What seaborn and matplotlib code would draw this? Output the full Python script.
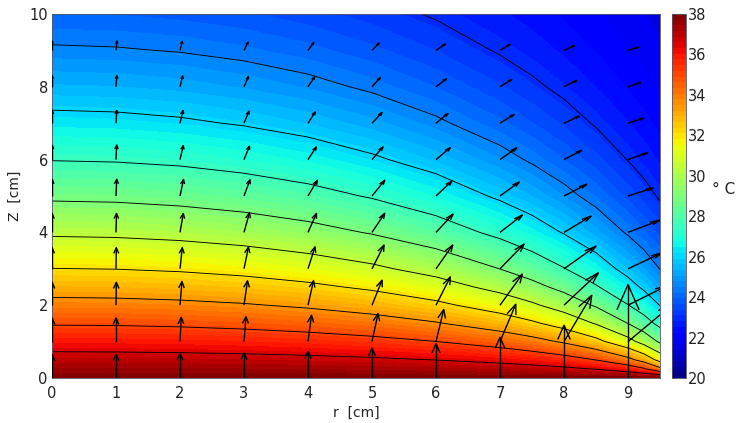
import numpy as np
import matplotlib
matplotlib.use("Agg")
import matplotlib.pyplot as plt
from matplotlib.collections import LineCollection
import seaborn as sns

# Temperature field T(r, z) in degrees C on a rectilinear grid (rows: z, columns: r)
r_cm = [0, 1, 2, 3, 4, 5, 6, 7, 7.5, 8, 8.5, 9, 9.25, 9.5]
z_cm = [0, 0.25, 0.5, 1, 1.5, 2, 2.5, 3, 4, 5, 6, 7, 8, 9, 10]
temperature = [
    [38.00, 38.00, 38.00, 38.00, 38.00, 38.00, 38.00, 38.00, 38.00, 38.00, 38.00, 38.00, 38.00, 38.00],
    [37.48, 37.47, 37.46, 37.43, 37.40, 37.33, 37.24, 37.08, 36.95, 36.76, 36.44, 35.80, 35.15, 33.85],
    [36.96, 36.95, 36.92, 36.87, 36.79, 36.67, 36.48, 36.17, 35.92, 35.55, 34.97, 33.89, 32.96, 31.53],
    [35.92, 35.90, 35.85, 35.75, 35.60, 35.37, 35.01, 34.42, 33.97, 33.34, 32.41, 30.99, 30.00, 28.79],
    [34.90, 34.88, 34.80, 34.66, 34.44, 34.11, 33.60, 32.81, 32.22, 31.45, 30.41, 28.99, 28.11, 27.12],
    [33.91, 33.88, 33.78, 33.60, 33.32, 32.91, 32.30, 31.36, 30.71, 29.89, 28.85, 27.54, 26.79, 25.97],
    [32.95, 32.91, 32.79, 32.58, 32.26, 31.79, 31.10, 30.09, 29.42, 28.61, 27.62, 26.46, 25.81, 25.13],
    [32.02, 31.98, 31.85, 31.62, 31.26, 30.75, 30.02, 28.99, 28.32, 27.55, 26.64, 25.61, 25.06, 24.48],
    [30.31, 30.26, 30.11, 29.85, 29.46, 28.91, 28.17, 27.19, 26.60, 25.93, 25.19, 24.40, 23.98, 23.55],
    [28.79, 28.74, 28.58, 28.32, 27.93, 27.40, 26.71, 25.83, 25.33, 24.78, 24.19, 23.57, 23.25, 22.92],
    [27.46, 27.41, 27.27, 27.01, 26.65, 26.16, 25.55, 24.81, 24.39, 23.94, 23.47, 22.98, 22.73, 22.48],
    [26.34, 26.29, 26.15, 25.92, 25.60, 25.17, 24.64, 24.02, 23.67, 23.31, 22.94, 22.55, 22.35, 22.16],
    [25.39, 25.35, 25.23, 25.02, 24.74, 24.37, 23.93, 23.41, 23.13, 22.84, 22.53, 22.23, 22.07, 21.92],
    [24.60, 24.56, 24.46, 24.29, 24.05, 23.74, 23.37, 22.94, 22.71, 22.47, 22.23, 21.98, 21.86, 21.73],
    [23.95, 23.92, 23.83, 23.69, 23.49, 23.23, 22.93, 22.58, 22.39, 22.20, 22.00, 21.80, 21.70, 21.59],
]

# Isotherm levels drawn as black lines
isotherms = [23.0, 24.5, 26.0, 27.5, 29.0, 30.5, 32.0, 33.5, 35.0, 36.5]

# Heat-flux vectors sampled on the integer grid (rows: z = 0..9, columns: r = 0..9)
arrow_r = [0, 1, 2, 3, 4, 5, 6, 7, 8, 9]
arrow_z = [0, 1, 2, 3, 4, 5, 6, 7, 8, 9]
flux_r = [
    [0, 0.0, 0.0, 0.0, 0.0, 0.0, 0.0, 0.0, 0.0, 0.0],
    [0, 0.0, 2.0, 3.1, 5.5, 9.4, 12.1, 24.6, 43.4, 75.1],
    [0, 0.5, 3.1, 5.5, 8.6, 15.7, 22.4, 34.9, 53.7, 62.6],
    [0, 0.5, 3.6, 7.0, 11.0, 18.8, 26.1, 37.6, 50.1, 53.2],
    [0, 0.8, 5.2, 8.6, 13.3, 19.9, 26.6, 34.9, 42.3, 50.1],
    [0, 1.1, 5.5, 9.4, 14.6, 19.9, 25.0, 30.2, 35.5, 39.1],
    [0, 1.1, 5.2, 8.6, 13.0, 17.2, 22.4, 26.1, 27.7, 30.2],
    [0, 1.1, 4.7, 7.8, 11.4, 15.7, 18.8, 21.9, 23.9, 24.6],
    [0, 1.3, 4.2, 7.0, 10.5, 13.0, 16.1, 18.3, 19.9, 19.9],
    [0, 1.6, 3.6, 6.3, 8.9, 11.0, 14.6, 15.7, 16.1, 16.1],
]
flux_z = [
    [65, 65, 67, 69, 73.4, 82.5, 94.3, 111.9, 144.9, 256.6],
    [65, 65, 66.5, 68.5, 72.3, 77.0, 88.0, 102.6, 127.3, 110.0],
    [63, 63, 65, 67, 67, 68.8, 77.8, 85.3, 88.8, 55.0],
    [58, 58, 58, 59.7, 60.5, 65.2, 65.2, 67.9, 62.4, 44.0],
    [52, 52, 52, 54, 52.3, 52.3, 50.3, 47.6, 44.8, 33.8],
    [46, 46, 45.5, 44.8, 43.2, 43.2, 41.3, 38.5, 32.2, 22.0],
    [40, 40, 38.5, 37, 34.9, 34.9, 33.0, 32.2, 25.6, 18.4],
    [35, 35, 35, 33, 31.1, 29.4, 26.7, 23.9, 19.3, 14.0],
    [31, 31, 29.5, 28.3, 27.5, 25.6, 22.0, 20.1, 17.3, 12.0],
    [26, 26, 24.8, 22.8, 21.2, 20.1, 17.3, 16.5, 12.9, 9.0],
]

sns.set_style("white")
plt.rcParams["font.family"] = ["DejaVu Sans"]

fig = plt.figure(figsize=(7.38, 4.23), dpi=100)
ax = fig.add_axes([52 / 738, 45 / 423, 608 / 738, 364 / 423])
cax = fig.add_axes([672 / 738, 45 / 423, 14 / 738, 364 / 423])

T = np.array(temperature)
fill_levels = np.linspace(20, 38, 65)
cf = ax.contourf(r_cm, z_cm, T, levels=fill_levels, cmap="jet", zorder=1)
ax.contour(r_cm, z_cm, T, levels=isotherms, colors="black", linewidths=0.65, zorder=2)

# MATLAB-style quiver: shaft plus two head strokes, built in data units
scale = 0.01
alpha, beta = 0.27, 0.25
segs = []
for j, z0 in enumerate(arrow_z):
    for i, r0 in enumerate(arrow_r):
        u = flux_r[j][i] * scale
        v = flux_z[j][i] * scale
        tip = (r0 + u, z0 + v)
        segs.append([(r0, z0), tip])
        segs.append([(tip[0] - alpha * (u + beta * v), tip[1] - alpha * (v - beta * u)), tip,
                     (tip[0] - alpha * (u - beta * v), tip[1] - alpha * (v + beta * u))])
ax.add_collection(LineCollection(segs, colors="black", linewidths=1.0, zorder=3))

ax.set_xlim(0, 9.5)
ax.set_ylim(0, 10)
ax.set_xticks(range(0, 10))
ax.set_yticks(range(0, 11, 2))
ax.tick_params(length=0, labelsize=10.5, labelcolor="#222222")
ax.tick_params(axis="x", pad=5.5)
ax.tick_params(axis="y", pad=3)
for s in ax.spines.values():
    s.set_linewidth(0.6)
    s.set_color("#555566")
ax.set_xlabel("r  [cm]", fontsize=10, labelpad=4, color="#222222")
ax.set_ylabel("Z  [cm]", fontsize=10, labelpad=5, color="#222222")

cb = fig.colorbar(cf, cax=cax, ticks=range(20, 39, 2))
cb.ax.tick_params(direction="in", length=3, width=0.5, labelsize=10.5, pad=1.5,
                  left=True, right=True, labelcolor="#222222")
cb.outline.set_linewidth(0.6)
cb.outline.set_edgecolor("#555566")
fig.text(724 / 738, 1 - 189 / 423, "° C", fontsize=11, ha="center", va="center",
         color="#222222")

fig.savefig("out.png", dpi=100)
